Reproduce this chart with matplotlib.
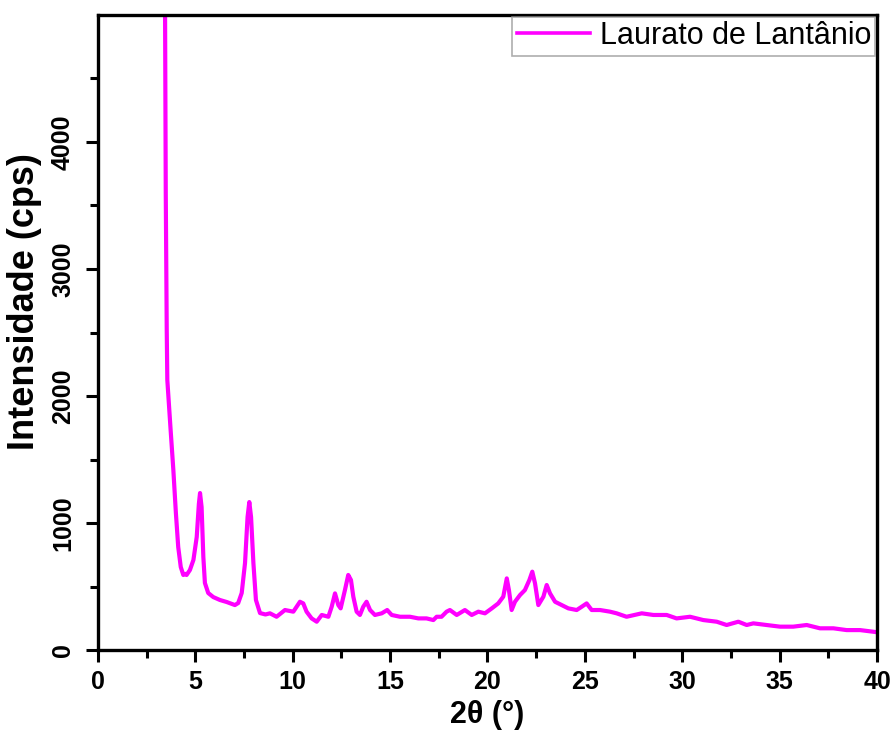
import numpy as np
import matplotlib.pyplot as plt

# ----------------------------------------------------------------------
# XRD pattern (2theta in degrees, cps)
# ----------------------------------------------------------------------
two_theta = [
    3.40, 3.44, 3.48, 3.53, 3.56, 3.73, 3.87, 4.00, 4.12, 4.25, 4.38, 4.47,
    4.55, 4.72, 4.90, 5.07, 5.18, 5.24, 5.32, 5.41, 5.49, 5.66, 5.92, 6.26,
    6.61, 7.03, 7.20, 7.38, 7.55, 7.68, 7.77, 7.86, 7.98, 8.11, 8.32, 8.60,
    8.83, 9.17, 9.60, 10.03, 10.37, 10.54, 10.71, 10.97, 11.23, 11.49, 11.83,
    12.00, 12.17, 12.34, 12.46, 12.68, 12.85, 12.99, 13.11, 13.28, 13.45,
    13.62, 13.79, 13.97, 14.22, 14.57, 14.85, 15.08, 15.51, 16.02, 16.45,
    16.87, 17.22, 17.39, 17.64, 17.90, 18.07, 18.42, 18.84, 19.19, 19.53,
    19.87, 20.22, 20.55, 20.81, 20.99, 21.10, 21.24, 21.41, 21.67, 21.92,
    22.15, 22.30, 22.44, 22.61, 22.87, 23.04, 23.21, 23.47, 23.81, 24.15,
    24.58, 24.84, 25.09, 25.35, 25.78, 26.29, 26.63, 27.14, 27.92, 28.52,
    29.20, 29.71, 30.40, 31.08, 31.77, 32.28, 32.88, 33.31, 33.65, 34.33,
    35.02, 35.70, 36.39, 37.07, 37.76, 38.44, 39.13, 39.81, 40.00,
]
intensity = [
    9000, 5200, 3600, 2520, 2126, 1732, 1417, 1079, 811, 654, 591, 600,
    591, 630, 709, 890, 1150, 1236, 1126, 732, 528, 449, 417, 394,
    378, 354, 370, 449, 685, 1047, 1165, 1047, 685, 394, 291, 280,
    289, 262, 315, 302, 380, 367, 302, 249, 223, 276, 262,
    341, 446, 354, 328, 472, 591, 551, 420, 302, 276,
    341, 380, 315, 276, 289, 315, 276, 262, 262, 249,
    249, 236, 262, 262, 302, 315, 276, 315, 276, 302,
    289, 328, 367, 420, 564, 472, 315, 380, 433, 472,
    551, 617, 525, 354, 420, 512, 446, 380, 354, 328,
    315, 341, 367, 315, 315, 302, 289, 262, 289, 276,
    276, 249, 262, 236, 223, 197, 223, 197, 210, 197,
    184, 184, 197, 171, 171, 157, 157, 144, 140,
]

x_ticks = [0, 5, 10, 15, 20, 25, 30, 35, 40]
y_ticks = [0, 1000, 2000, 3000, 4000]

plt.rcParams['font.family'] = ['Liberation Sans', 'DejaVu Sans']

fig = plt.figure(figsize=(8.94, 7.38), dpi=100)
ax = fig.add_axes([0.1096, 0.1192, 0.9810 - 0.1096, 0.9797 - 0.1192])

ax.plot(two_theta, intensity, color='#ff00ff', lw=3.0, label='Laurato de Lantânio')

ax.set_xlim(0, 40)
ax.set_ylim(0, 5000)
ax.set_xticks(x_ticks)
ax.set_yticks(y_ticks)
ax.set_xticks(np.arange(2.5, 40, 5), minor=True)
ax.set_yticks(np.arange(500, 5000, 1000), minor=True)

for side in ax.spines.values():
    side.set_linewidth(2.4)

ax.tick_params(which='both', direction='out', top=False, right=False, width=2.2)
ax.tick_params(which='major', length=8.5)
ax.tick_params(which='minor', length=6)
ax.tick_params(axis='x', which='major', pad=6)
ax.tick_params(axis='y', which='major', pad=8)

for lab in ax.get_xticklabels():
    lab.set_fontsize(18)
    lab.set_fontweight('bold')
for lab in ax.get_yticklabels():
    lab.set_fontsize(18)
    lab.set_fontweight('bold')
    lab.set_rotation(90)
    lab.set_verticalalignment('center')

ax.set_xlabel('2θ (°)', fontsize=22, fontweight='bold', labelpad=4)
ax.set_ylabel('Intensidade (cps)', fontsize=26, fontweight='bold')
ax.yaxis.set_label_coords(-0.072, 0.548)

leg = ax.legend(loc='upper right', fontsize=22, frameon=True, fancybox=False,
                borderaxespad=0.05, borderpad=0.15, handlelength=2.4,
                handletextpad=0.3)
leg.get_frame().set_edgecolor('#9a9a9a')
leg.get_frame().set_linewidth(1.2)
leg.get_lines()[0].set_linewidth(2.6)

fig.savefig('out.png', dpi=100)
